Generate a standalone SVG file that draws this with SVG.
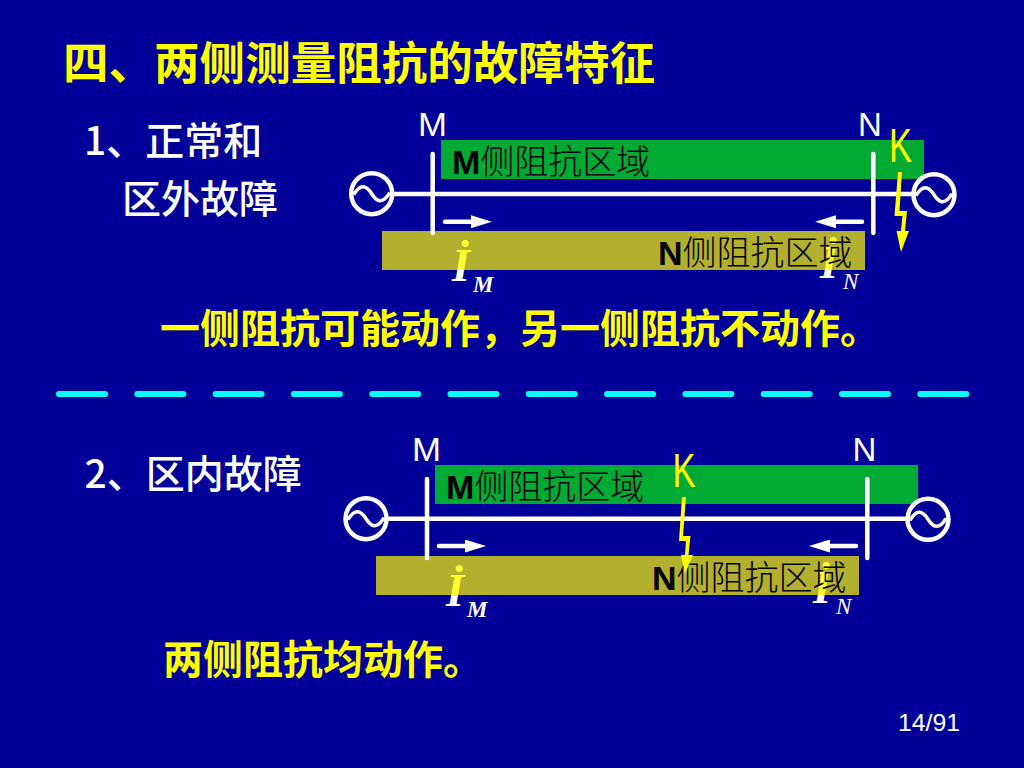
<svg xmlns="http://www.w3.org/2000/svg" width="1024" height="768" viewBox="0 0 1024 768">
<style>
.cn{font-family:"Noto Sans CJK SC","Liberation Sans",sans-serif;font-weight:700;fill:#ffff00}
.lab{font-family:"Noto Sans CJK SC","Liberation Sans",sans-serif;font-weight:500;fill:#ffffff;font-size:39px}
.zone{font-family:"Noto Sans CJK SC","Liberation Sans",sans-serif;font-weight:300;fill:#000;font-size:34px}
.zone .b{font-family:"Liberation Sans",sans-serif;font-weight:700}
.mn{font-family:"Liberation Sans",sans-serif;fill:#fff;font-size:33px}
.k{font-family:"Liberation Sans",sans-serif;fill:#ffff00;font-size:49px}
.ii{font-family:"Liberation Serif",serif;font-style:italic;font-weight:700;font-size:46px}
.sub{font-family:"Liberation Serif",serif;font-style:italic;font-weight:700;fill:#fff;font-size:23px}
.subn{font-family:"Liberation Serif",serif;font-style:italic;fill:#fff;font-size:23px}
.w{stroke:#fff;stroke-width:4.500;fill:none;stroke-linecap:round}
.green{fill:#00aa33}.olive{fill:#b2b02e}
.fault{fill:#ffff00;stroke:none}
</style>
<defs>
<linearGradient id="g1" gradientUnits="userSpaceOnUse" x1="0" y1="231" x2="0" y2="270"><stop offset="1" stop-color="#ffff33"/><stop offset="1" stop-color="#fff"/></linearGradient>
<linearGradient id="g2" gradientUnits="userSpaceOnUse" x1="0" y1="556" x2="0" y2="595"><stop offset="1" stop-color="#ffff33"/><stop offset="1" stop-color="#fff"/></linearGradient>
<marker id="a" viewBox="0 0 21 13" refX="1" refY="6.5" markerWidth="21" markerHeight="13" markerUnits="userSpaceOnUse" orient="auto"><path d="M0 0L21 6.500L0 13z" fill="#fff"/></marker>
<g id="src"><circle r="20.500" fill="none" stroke="#fff" stroke-width="4.500"/><path d="M-18 1C-11-11-5-8 0 0S11 11 18-1" fill="none" stroke="#fff" stroke-width="3.500"/></g>
</defs>
<rect width="1024" height="768" fill="#000099"/>
<g id="title"><text class="cn" x="63" y="80" font-size="45" textLength="592" lengthAdjust="spacingAndGlyphs">四、两侧测量阻抗的故障特征</text></g>
<g id="case1-label"><text class="lab" x="84" y="155">1、正常和</text><text class="lab" x="122" y="213">区外故障</text></g>
<g id="case2-label"><text class="lab" x="84.500" y="488">2、区内故障</text></g>
<g id="result1"><text class="cn" x="160" y="343" font-size="40">一侧阻抗可能动作，另一侧阻抗不动作。</text></g>
<g id="result2"><text class="cn" x="163" y="674" font-size="40">两侧阻抗均动作。</text></g>
<g id="page"><text x="898" y="731" font-family="Liberation Sans, sans-serif" font-size="24" fill="#fff" textLength="62" lengthAdjust="spacingAndGlyphs">14/91</text></g>
<g id="divider"><path d="M59 394H968" stroke="#00ffff" stroke-width="6" stroke-linecap="round" stroke-dasharray="46 32.300" fill="none"/></g>

<g id="zone-m1"><rect class="green" x="441" y="140" width="483" height="39"/><text class="zone" x="452" y="174"><tspan class="b">M</tspan>侧阻抗区域</text></g>
<g id="zone-n1"><rect class="olive" x="382" y="231" width="483" height="39"/><text class="ii" x="452" y="281" fill="url(#g1)">İ</text><text class="ii" x="820" y="278" fill="url(#g1)">İ</text><text class="zone" x="658" y="265"><tspan class="b">N</tspan>侧阻抗区域</text></g>
<g id="labels1"><text class="mn" x="418" y="135.500" textLength="29" lengthAdjust="spacingAndGlyphs">M</text><text class="mn" x="858" y="135.500">N</text><text class="k" x="889" y="162" textLength="23" lengthAdjust="spacingAndGlyphs">K</text><text class="sub" x="473" y="292">M</text><text class="subn" x="843" y="289">N</text></g>
<g id="connectors1">
<path class="w" d="M393 194H912M432.700 154V233M873.300 154V233"/>
<use href="#src" x="371.700" y="193.700"/><use href="#src" x="934" y="194.700"/>
<path class="w" d="M445 221.700H472" marker-end="url(#a)"/>
<path class="w" d="M862 221.700H835" marker-end="url(#a)"/>
<path class="fault" d="M898 172L902 172L899.500 211L907 211L905 231L909 231L901 252L896.500 231L901 231L902.500 216L894.500 216Z"/>
</g>

<g id="zone-m2"><rect class="green" x="435" y="465" width="483" height="39"/><text class="zone" x="446" y="499"><tspan class="b">M</tspan>侧阻抗区域</text></g>
<g id="zone-n2"><rect class="olive" x="376" y="556" width="483" height="39"/><text class="ii" x="446" y="606" fill="url(#g2)">İ</text><text class="ii" x="813" y="603" fill="url(#g2)">İ</text><text class="zone" x="652" y="590"><tspan class="b">N</tspan>侧阻抗区域</text></g>
<g id="labels2"><text class="mn" x="412" y="460.700" textLength="29" lengthAdjust="spacingAndGlyphs">M</text><text class="mn" x="852.500" y="460.700">N</text><text class="k" x="672.500" y="487" textLength="23" lengthAdjust="spacingAndGlyphs">K</text><text class="sub" x="467" y="617">M</text><text class="subn" x="836" y="614">N</text></g>
<g id="connectors2">
<path class="w" d="M387 518.700H906M427 479V558M867.300 479V558"/>
<use href="#src" x="366" y="518.700"/><use href="#src" x="928" y="519.300"/>
<path class="w" d="M439 546H466" marker-end="url(#a)"/>
<path class="w" d="M856 546H829" marker-end="url(#a)"/>
<path class="fault" d="M682 497L686 497L683 536L690.500 536L688.500 555L693 555L685 574L681 555L685 555L686 541L679 541Z"/>
</g>
</svg>
